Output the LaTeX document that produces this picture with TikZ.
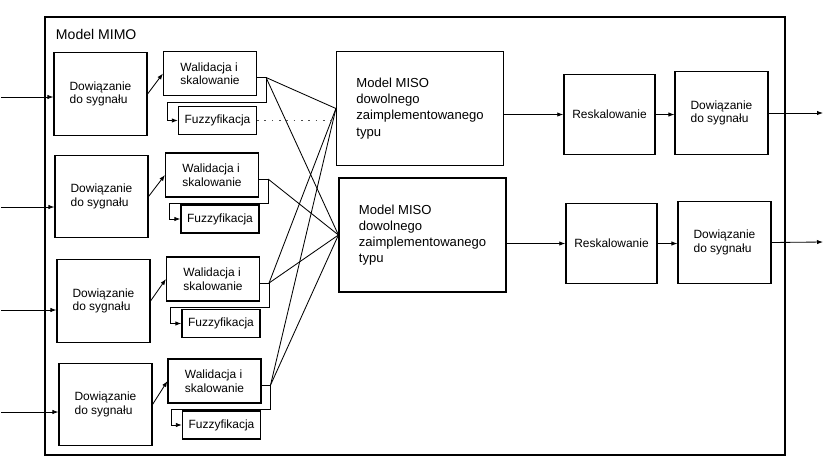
\documentclass[tikz,border=0pt]{standalone}
\usepackage{fontspec}
\setmainfont{Liberation Sans}
\usetikzlibrary{positioning,arrows.meta,calc}
\tikzset{
  flowarrow/.style={-{Latex[length=1.5mm,width=1.1mm]}, line width=0.6pt},
  linkline/.style={line width=0.6pt},
  dotline/.style={line width=0.6pt, dash pattern=on 1.2pt off 4pt, black!70},
  framebox/.style={draw, line width=0.8pt},
  signode/.style={draw, line width=0.9pt, minimum width=2.32cm, minimum height=2.06cm, align=left},
  validnode/.style={draw, line width=0.9pt, minimum width=2.32cm, minimum height=1.1cm, align=left},
  fuzznode/.style={draw, line width=0.9pt, minimum width=1.95cm, minimum height=0.7cm},
  misonode/.style={draw, line width=0.9pt, minimum width=4.17cm, minimum height=2.85cm, align=left, font=\fontsize{9.3}{11.5}\selectfont},
  rescnode/.style={draw, line width=0.9pt, minimum width=2.28cm, minimum height=2.0cm}
}

\begin{document}
\begin{tikzpicture}[>=Latex, x=0.025cm, y=-0.025cm, every node/.style={font=\fontsize{8.5}{9.6}\selectfont}]
  \useasboundingbox (0,0) rectangle (824,463);
  \draw[framebox] (45,17) rectangle (785,455);
  \node[anchor=west, font=\fontsize{10}{12}\selectfont] (title) at (51,34) {Model MIMO};

  \node[signode] (sig1) at (100.5,94) {Dowiązanie\\do sygnału};
  \node[signode] (sig2) at (101.5,196.5) {Dowiązanie\\do sygnału};
  \node[signode] (sig3) at (103.5,301) {Dowiązanie\\do sygnału};
  \node[signode] (sig4) at (105.5,404.5) {Dowiązanie\\do sygnału};

  \node[validnode] (val1) at (210,73.5) {Walidacja i\\skalowanie};
  \node[validnode] (val2) at (212,175) {Walidacja i\\skalowanie};
  \node[validnode] (val3) at (213,279) {Walidacja i\\skalowanie};
  \node[validnode] (val4) at (214.5,381) {Walidacja i\\skalowanie};

  \node[fuzznode] (fuz1) at (217.5,120.5) {Fuzzyfikacja};
  \node[fuzznode] (fuz2) at (220,219) {Fuzzyfikacja};
  \node[fuzznode] (fuz3) at (221,323.5) {Fuzzyfikacja};
  \node[fuzznode] (fuz4) at (221.5,425) {Fuzzyfikacja};

  \node[misonode] (miso1) at (420,108.5) {Model MISO\\dowolnego\\zaimplementowanego\\typu};
  \node[misonode] (miso2) at (422.5,235) {Model MISO\\dowolnego\\zaimplementowanego\\typu};

  \node[rescnode] (resc1) at (609.5,114.5) {Reskalowanie};
  \node[rescnode] (resc2) at (611.5,243.5) {Reskalowanie};
  \node[signode] (sig5) at (721.5,113) {Dowiązanie\\do sygnału};
  \node[signode] (sig6) at (724.5,242.5) {Dowiązanie\\do sygnału};

  \coordinate (src1) at (1,97);
  \coordinate (src2) at (1,207);
  \coordinate (src3) at (1,310);
  \coordinate (src4) at (1,412);
  \coordinate (dst1) at (823,113);
  \coordinate (dst2) at (823,242);
  \coordinate (tap1) at ($(val1.east)+(9,4)$);
  \coordinate (tap2) at ($(val2.east)+(9,4)$);
  \coordinate (tap3) at ($(val3.east)+(9,4)$);
  \coordinate (tap4) at ($(val4.east)+(9,4)$);

  \draw[flowarrow] (src1) -- (src1 -| sig1.west);
  \draw[flowarrow] (src2) -- (src2 -| sig2.west);
  \draw[flowarrow] (src3) -- (src3 -| sig3.west);
  \draw[flowarrow] (src4) -- (src4 -| sig4.west);

  \draw[flowarrow] (sig1.east) -- (val1.west);
  \draw[flowarrow] (sig2.east) -- (val2.west);
  \draw[flowarrow] (sig3.east) -- (val3.west);
  \draw[flowarrow] (sig4.east) -- (val4.west);

  \draw[flowarrow] (val1.east |- tap1) -- (tap1) |- ($(val1.south west)+(4,6)$) |- (fuz1.west);
  \draw[flowarrow] (val2.east |- tap2) -- (tap2) |- ($(val2.south west)+(4,6)$) |- (fuz2.west);
  \draw[flowarrow] (val3.east |- tap3) -- (tap3) |- ($(val3.south west)+(4,6)$) |- (fuz3.west);
  \draw[flowarrow] (val4.east |- tap4) -- (tap4) |- ($(val4.south west)+(4,6)$) |- (fuz4.west);

  \draw[linkline] (tap1) -- (miso1.west);
  \draw[linkline] (tap1) -- (miso2.west);
  \draw[linkline] (tap2) -- (miso2.west);
  \draw[linkline] (tap3) -- (miso1.west);
  \draw[linkline] (tap3) -- (miso2.west);
  \draw[linkline] (tap4) -- (miso1.west);
  \draw[linkline] (tap4) -- (miso2.west);
  \draw[dotline] (fuz1.east) -- (fuz1.east -| miso1.west);

  \draw[flowarrow] (miso1.east |- resc1.west) -- (resc1.west);
  \draw[flowarrow] (miso2.east |- resc2.west) -- (resc2.west);
  \draw[flowarrow] (resc1.east) -- (resc1.east -| sig5.west);
  \draw[flowarrow] (resc2.east) -- (resc2.east -| sig6.west);
  \draw[flowarrow] (sig5.east) -- (dst1);
  \draw[flowarrow] (sig6.east) -- (dst2);
\end{tikzpicture}
\end{document}
